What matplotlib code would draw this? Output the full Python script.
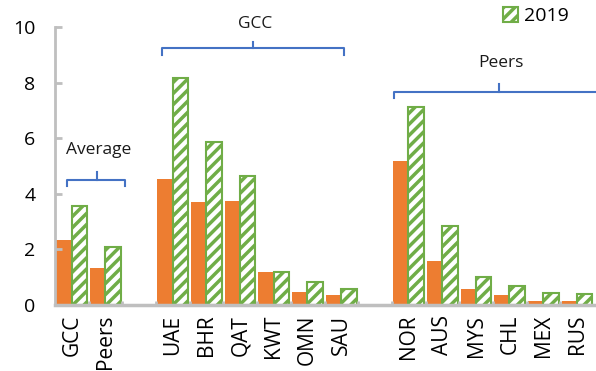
import matplotlib

matplotlib.use("Agg")
import matplotlib.pyplot as plt  # noqa: E402
import numpy as np
from matplotlib.patches import Patch

plt.rcParams["font.family"] = ["Open Sans", "DejaVu Sans"]
plt.rcParams["hatch.color"] = "#70AD47"
plt.rcParams["hatch.linewidth"] = 2.5

# categories, blank slots separate the groups
categories = ["GCC", "Peers", "", "UAE", "BHR", "QAT", "KWT", "OMN", "SAU",
              "", "NOR", "AUS", "MYS", "CHL", "MEX", "RUS"]
base_vals = [2.35, 1.32, np.nan, 4.55, 3.70, 3.73, 1.18, 0.47, 0.36,
             np.nan, 5.17, 1.58, 0.56, 0.36, 0.14, 0.14]
vals_2019 = [3.55, 2.08, np.nan, 8.17, 5.85, 4.65, 1.18, 0.84, 0.56,
             np.nan, 7.12, 2.84, 1.00, 0.67, 0.44, 0.38]

ORANGE = "#ED7D31"
GREEN = "#70AD47"
BLUE = "#4472C4"
GRAY = "#BFBFBF"

W, H = 596, 371
fig = plt.figure(figsize=(W / 100, H / 100), dpi=100)
ax = fig.add_axes([55 / W, 1 - 305 / H, (594 - 55) / W, (305 - 27) / H])

x = np.arange(len(categories))
ax.bar(x - 0.24, base_vals, 0.44, color=ORANGE, linewidth=0)
ax.bar(x + 0.22, vals_2019, 0.46, facecolor="white", edgecolor=GREEN,
       hatch="///", linewidth=1.5)

ax.set_xlim(-0.5, len(categories) - 0.5)
ax.set_ylim(0, 10)
ax.set_yticks(range(0, 11, 2))
ax.set_xticks(x)
ax.set_xticks(x[:-1] + 0.5, minor=True)
ax.set_xticklabels(categories, rotation=90, fontsize=15)
ax.tick_params(axis="x", which="major", length=0, pad=7)
ax.tick_params(axis="x", which="minor", direction="in", length=3,
               color=GRAY, width=2)
ax.tick_params(axis="y", direction="in", length=5, color=GRAY, width=2,
               labelsize=14, pad=14)
for s in ["top", "right"]:
    ax.spines[s].set_visible(False)
ax.spines["left"].set_color(GRAY)
ax.spines["left"].set_linewidth(2)
ax.spines["bottom"].set_color(GRAY)
ax.spines["bottom"].set_linewidth(2.5)


def fx(px):
    return px / W


def fy(py):
    return 1 - py / H


def bracket(x0, x1, y, hook, xm, ytop, label, ly):
    xs = [x0, x0, x1, x1]
    ys = [y + hook, y, y, y + hook]
    fig.add_artist(plt.Line2D([fx(v) for v in xs], [fy(v) for v in ys],
                              color=BLUE, lw=1.5, transform=fig.transFigure))
    fig.add_artist(plt.Line2D([fx(xm), fx(xm)], [fy(y), fy(ytop)],
                              color=BLUE, lw=1.5, transform=fig.transFigure))
    fig.text(fx(xm + 2), fy(ly), label, ha="center", va="center", fontsize=12.5,
             color="#1a1a1a")


bracket(66.7, 125, 180, 6, 96.7, 172, "Average", 150)
bracket(161.7, 344.3, 48.3, 7, 252.7, 41.7, "GCC", 24)
bracket(394, 640, 92.3, 6, 499, 84.3, "Peers", 63)

handle = Patch(facecolor="white", edgecolor=GREEN, hatch="///", linewidth=1.5)
fig.legend([handle], ["2019"], loc="center left",
           bbox_to_anchor=(fx(485), fy(16)), frameon=False, fontsize=14,
           handlelength=0.8, handleheight=0.8, handletextpad=0.3)

fig.savefig("out.png", dpi=100)
